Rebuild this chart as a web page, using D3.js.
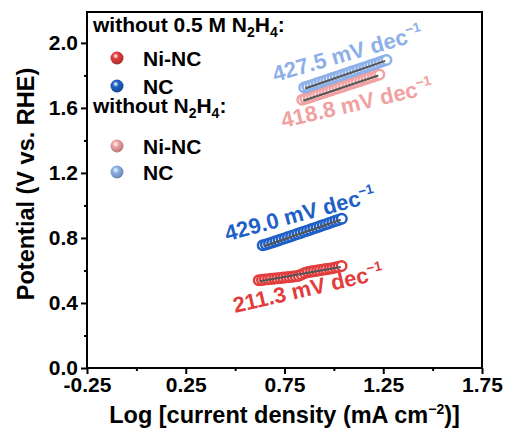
<!DOCTYPE html>
<html>
<head>
<meta charset="utf-8">
<script src="https://cdn.jsdelivr.net/npm/d3@7"></script>
<style>
  body { margin: 0; background: #fff; }
  svg text { font-family: "Liberation Sans", Arial, sans-serif; font-weight: bold; }
</style>
</head>
<body>
<script>
// chart data

var niN2h4X = [0.620, 0.636, 0.651, 0.667, 0.682, 0.698, 0.713, 0.729, 0.744, 0.760, 0.775, 0.791, 0.806, 0.822,
               0.837, 0.853, 0.868, 0.884, 0.899, 0.915, 0.930, 0.946, 0.961, 0.977, 0.992, 1.008, 1.023, 1.039];
var niN2h4Y = [0.540, 0.542, 0.544, 0.546, 0.548, 0.550, 0.552, 0.554, 0.556, 0.558, 0.560, 0.562, 0.564, 0.567,
               0.575, 0.584, 0.590, 0.593, 0.596, 0.599, 0.602, 0.605, 0.608, 0.611, 0.614, 0.618, 0.622, 0.627];

var ncN2h4X = [0.640, 0.656, 0.672, 0.688, 0.704, 0.720, 0.736, 0.752, 0.768, 0.784, 0.800, 0.816, 0.832,
               0.848, 0.864, 0.880, 0.896, 0.912, 0.928, 0.944, 0.960, 0.976, 0.992, 1.008, 1.024, 1.040];
var ncN2h4Y = [0.755, 0.760, 0.766, 0.772, 0.779, 0.785, 0.792, 0.798, 0.805, 0.811, 0.818, 0.825, 0.831,
               0.838, 0.844, 0.851, 0.858, 0.864, 0.871, 0.878, 0.884, 0.891, 0.898, 0.905, 0.911, 0.918];

var niBareX = [0.840, 0.856, 0.873, 0.889, 0.905, 0.921, 0.938, 0.954, 0.970, 0.986, 1.003, 1.019, 1.035,
               1.051, 1.068, 1.084, 1.100, 1.116, 1.133, 1.149, 1.165, 1.181, 1.198, 1.214, 1.230];
var niBareY = [1.650, 1.656, 1.663, 1.669, 1.676, 1.682, 1.689, 1.695, 1.702, 1.708, 1.715, 1.721, 1.728,
               1.734, 1.741, 1.747, 1.753, 1.760, 1.766, 1.773, 1.779, 1.786, 1.792, 1.799, 1.805];

var ncBareX = [0.850, 0.866, 0.882, 0.898, 0.914, 0.930, 0.946, 0.962, 0.978, 0.994, 1.010, 1.026, 1.042, 1.058,
               1.074, 1.090, 1.106, 1.122, 1.138, 1.154, 1.170, 1.186, 1.202, 1.218, 1.234, 1.250, 1.266];
var ncBareY = [1.725, 1.731, 1.738, 1.744, 1.751, 1.757, 1.764, 1.770, 1.777, 1.783, 1.790, 1.796, 1.803, 1.810,
               1.816, 1.823, 1.829, 1.836, 1.842, 1.849, 1.855, 1.862, 1.868, 1.875, 1.882, 1.888, 1.895];

// Tafel fit lines: [x0, y0, x1, y1]
var fitLines = [
  [0.625, 0.534, 1.035, 0.621],
  [0.645, 0.749, 1.035, 0.912],
  [0.845, 1.644, 1.225, 1.799],
  [0.855, 1.719, 1.260, 1.889]
];

var slopeLabels = ["211.3", "429.0", "418.8", "427.5"];
var labelX = [0.499, 0.459, 0.742, 0.702];
var labelY = [0.338, 0.780, 1.477, 1.760];
var labelAngle = [-13, -15, -13, -16];

var seriesColors = ["#e23d3d", "#1f60c6", "#f1a1a1", "#8db0e8"];
var legendNames = ["Ni-NC", "NC", "Ni-NC", "NC"];

var xTicks = [-0.25, 0.25, 0.75, 1.25, 1.75];
var xMinor = [0, 0.5, 1.0, 1.5];
var yTicks = [0.0, 0.4, 0.8, 1.2, 1.6, 2.0];
var yMinor = [0.2, 0.6, 1.0, 1.4, 1.8];

// Setting up the svg

var width = 507, height = 432;
var mLeft = 87, mRight = 482, mTop = 12, mBottom = 368;

var svg = d3.select("body").append("svg")
    .attr("width", width)
    .attr("height", height);

var x = d3.scaleLinear().domain([-0.25, 1.75]).range([mLeft, mRight]);
var y = d3.scaleLinear().domain([0, 2.19]).range([mBottom, mTop]);

var defs = svg.append("defs");
seriesColors.forEach(function (c, i) {
    var g = defs.append("radialGradient")
        .attr("id", "ball" + i)
        .attr("cx", "40%").attr("cy", "35%").attr("r", "65%");
    g.append("stop").attr("offset", "0%").attr("stop-color", "#fff");
    g.append("stop").attr("offset", "35%").attr("stop-color", c);
    g.append("stop").attr("offset", "100%").attr("stop-color", d3.color(c).darker(0.8));
});

// Axes

var fmtX = function (d) { return d3.format(".2f")(d).replace("\u2212", "-"); };

svg.append("g")
    .attr("transform", "translate(0," + mBottom + ")")
    .call(d3.axisBottom(x).tickValues(xTicks).tickSize(6).tickFormat(fmtX))
    .call(function (g) {
        g.select(".domain").remove();
        g.selectAll("line").attr("stroke-width", 2);
        g.selectAll("text").attr("font-size", 21).attr("dy", "0.95em").attr("y", 4).attr("fill", "#000");
    });

svg.append("g")
    .attr("transform", "translate(0," + mBottom + ")")
    .call(d3.axisBottom(x).tickValues(xMinor).tickSize(3).tickFormat(""))
    .call(function (g) {
        g.select(".domain").remove();
        g.selectAll("line").attr("stroke-width", 2);
    });

svg.append("g")
    .attr("transform", "translate(" + mLeft + ",0)")
    .call(d3.axisLeft(y).tickValues(yTicks).tickSize(6).tickFormat(d3.format(".1f")))
    .call(function (g) {
        g.select(".domain").remove();
        g.selectAll("line").attr("stroke-width", 2);
        g.selectAll("text").attr("font-size", 21).attr("x", -9).attr("fill", "#000");
    });

svg.append("g")
    .attr("transform", "translate(" + mLeft + ",0)")
    .call(d3.axisLeft(y).tickValues(yMinor).tickSize(3).tickFormat(""))
    .call(function (g) {
        g.select(".domain").remove();
        g.selectAll("line").attr("stroke-width", 2);
    });

svg.append("rect")
    .attr("x", mLeft).attr("y", mTop)
    .attr("width", mRight - mLeft).attr("height", mBottom - mTop)
    .attr("fill", "none").attr("stroke", "#000").attr("stroke-width", 2);

// Axis titles

svg.append("text")
    .attr("x", (mLeft + mRight) / 2).attr("y", 423)
    .attr("text-anchor", "middle").attr("font-size", 23.5)
    .text("Log [current density (mA cm")
    .call(function (t) {
        t.append("tspan").attr("font-size", 14).attr("dy", -9).text("\u22122");
        t.append("tspan").attr("dy", 9).text(")]");
    });

svg.append("text")
    .attr("transform", "translate(34,184) rotate(-90)")
    .attr("text-anchor", "middle").attr("font-size", 23.5)
    .text("Potential (V vs. RHE)");

// Data

var series = [
    { xs: niN2h4X, ys: niN2h4Y },
    { xs: ncN2h4X, ys: ncN2h4Y },
    { xs: niBareX, ys: niBareY },
    { xs: ncBareX, ys: ncBareY }
];

var plot = svg.append("g");

series.forEach(function (s, i) {
    var pts = s.xs.map(function (v, k) { return [v, s.ys[k]]; });
    plot.append("g").selectAll("circle")
        .data(pts)
        .enter().append("circle")
        .attr("cx", function (d) { return x(d[0]); })
        .attr("cy", function (d) { return y(d[1]); })
        .attr("r", 4.8)
        .attr("fill", "#fff")
        .attr("stroke", seriesColors[i])
        .attr("stroke-width", 2.5);

    var f = fitLines[i];
    plot.append("line")
        .attr("x1", x(f[0])).attr("y1", y(f[1]))
        .attr("x2", x(f[2])).attr("y2", y(f[3]))
        .attr("stroke", "#555").attr("stroke-width", 2);
});

// Slope labels

slopeLabels.forEach(function (s, i) {
    svg.append("text")
        .attr("transform", "translate(" + x(labelX[i]) + "," + y(labelY[i]) + ") rotate(" + labelAngle[i] + ")")
        .attr("font-size", 22)
        .attr("fill", seriesColors[i])
        .text(s + " mV dec")
        .append("tspan").attr("font-size", 13.5).attr("dy", -9).text("\u22121");
});

// Legend

var legend = svg.append("g");

function header(yPos, parts) {
    var t = legend.append("text").attr("x", 93).attr("y", yPos).attr("font-size", 21);
    parts.forEach(function (p) {
        t.append("tspan")
            .attr("y", p.sub ? yPos + 5 : yPos)
            .attr("font-size", p.sub ? 14 : 21)
            .text(p.sub || p.text);
    });
}

header(32, [{ text: "without 0.5 M N" }, { sub: "2" }, { text: "H" }, { sub: "4" }, { text: ":" }]);
header(113, [{ text: "without N" }, { sub: "2" }, { text: "H" }, { sub: "4" }, { text: ":" }]);

var legendRows = [58, 86, 146, 172];
legendRows.forEach(function (ly, i) {
    legend.append("circle")
        .attr("cx", 117).attr("cy", ly).attr("r", 6.5)
        .attr("fill", "url(#ball" + i + ")");
    legend.append("text")
        .attr("x", 143).attr("y", ly + 7.5)
        .attr("font-size", 21)
        .text(legendNames[i]);
});
</script>
</body>
</html>
